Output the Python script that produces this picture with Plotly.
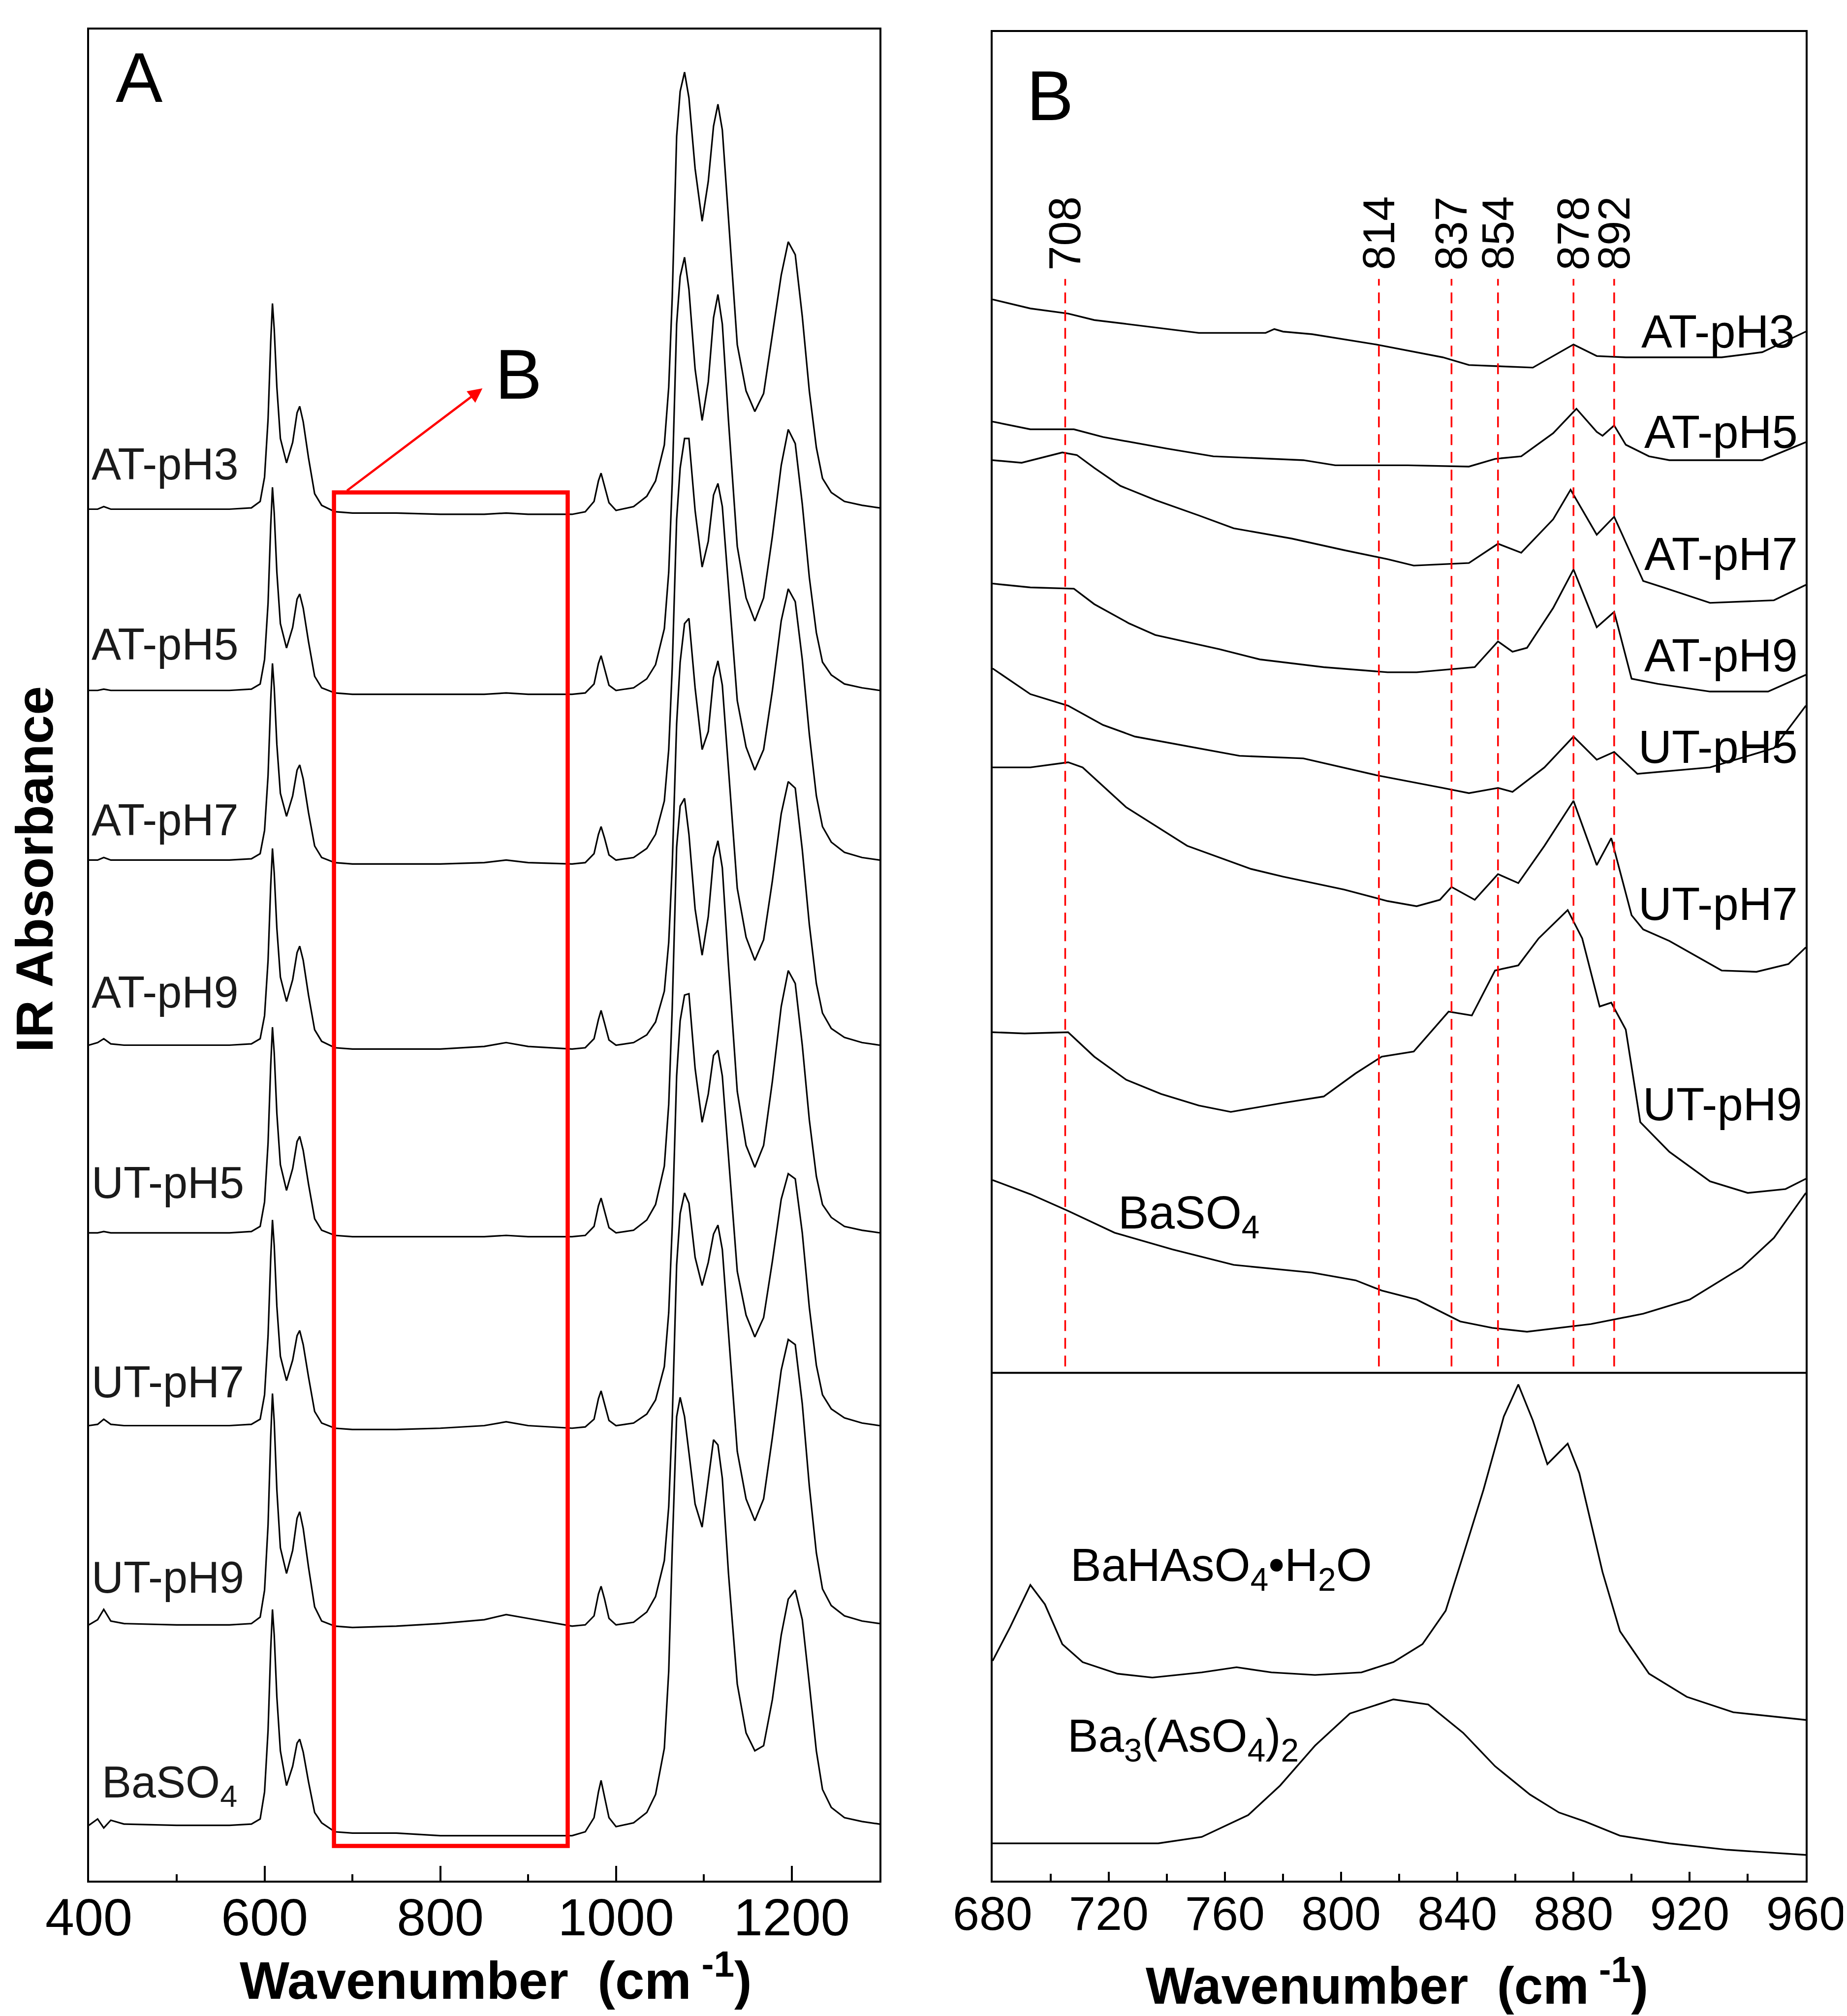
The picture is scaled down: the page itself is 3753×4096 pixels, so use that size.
import plotly.graph_objects as go

W, H = 3753, 4096
FONT = "Arial, Liberation Sans, Helvetica, sans-serif"

# ---------------- Panel A data (wavenumber grid, baseline offsets, heights above baseline)
wnA = [400, 410, 417, 425, 440, 500, 560, 585, 595,
       600, 604, 607, 609, 611, 614, 618, 625, 632, 637, 640, 644, 650, 657, 665,
       680, 700, 750, 800, 850, 875, 900, 950, 965, 975, 980, 983, 987, 992, 1000,
       1020, 1035, 1045, 1055, 1060, 1064, 1069, 1073, 1078, 1083, 1090, 1098, 1105, 1111, 1116,
       1121, 1128, 1138, 1148, 1158, 1168, 1178, 1188, 1196, 1204, 1212, 1220, 1228, 1235,
       1245, 1260, 1280, 1300]

namesA = ["AT-pH3", "AT-pH5", "AT-pH7", "AT-pH9", "UT-pH5", "UT-pH7", "UT-pH9", "BaSO4"]
offsetsA = [1067, 926, 794, 650, 504, 354, 199, 43]

at_ph3 = [0, 0, 2, 0, 0, 0, 0, 1, 6,
          25, 70, 130, 160, 140, 95, 55, 36, 52, 75, 80, 68, 40, 12, 3,
          -2, -3, -3, -4, -4, -3, -4, -4, -2, 6, 22, 28, 18, 5, -1,
          2, 10, 22, 50, 95, 165, 290, 325, 340, 320, 265, 224, 255, 298, 315,
          295, 226, 128, 92, 76, 90, 135, 182, 208, 198, 150, 92, 48, 24, 13, 6, 3, 1]
at_ph5 = [0, 0, 1, 0, 0, 0, 0, 1, 5,
          24, 68, 128, 158, 138, 92, 52, 33, 49, 71, 75, 64, 38, 11, 2,
          -2, -3, -3, -3, -3, -2, -3, -3, -2, 5, 21, 27, 17, 4, 0,
          2, 9, 20, 48, 92, 162, 285, 322, 337, 312, 250, 210, 240, 290, 308,
          285, 210, 112, 72, 54, 72, 120, 175, 203, 192, 145, 88, 45, 22, 12, 5, 2, 0]
at_ph7 = [0, 0, 2, 0, 0, 0, 0, 1, 5,
          23, 66, 124, 153, 134, 90, 52, 34, 50, 70, 74, 63, 37, 11, 2,
          -2, -3, -3, -3, -2, 0, -2, -3, -2, 5, 20, 26, 17, 4, 0,
          2, 9, 20, 46, 86, 150, 265, 305, 328, 328, 272, 228, 248, 284, 293,
          275, 212, 124, 88, 70, 86, 132, 186, 211, 201, 156, 98, 50, 26, 14, 6, 2, 0]
at_ph9 = [0, 2, 5, 1, 0, 0, 0, 1, 5,
          23, 66, 124, 153, 134, 91, 53, 34, 51, 72, 77, 66, 39, 12, 3,
          -2, -3, -3, -3, -1, 2, -1, -3, -2, 5, 20, 27, 17, 4, 0,
          2, 8, 18, 42, 80, 140, 250, 298, 328, 332, 278, 230, 244, 286, 299,
          280, 214, 122, 84, 66, 82, 128, 180, 205, 200, 152, 94, 48, 25, 13, 6, 2, 0]
ut_ph5 = [0, 0, 1, 0, 0, 0, 0, 1, 5,
          24, 70, 130, 160, 140, 93, 53, 33, 50, 71, 75, 64, 38, 11, 2,
          -2, -3, -3, -3, -3, -2, -3, -3, -2, 5, 21, 27, 17, 4, 0,
          2, 10, 22, 52, 100, 175, 300, 332, 338, 310, 252, 216, 246, 292, 305,
          284, 208, 110, 68, 51, 68, 118, 176, 204, 194, 146, 88, 44, 22, 12, 5, 2, 0]
ut_ph7 = [0, 1, 5, 1, 0, 0, 0, 1, 5,
          24, 70, 130, 160, 140, 93, 54, 35, 51, 70, 74, 63, 38, 11, 2,
          -2, -3, -3, -2, 0, 3, 0, -2, -1, 5, 21, 27, 17, 4, 0,
          2, 9, 20, 46, 88, 155, 272, 315, 335, 336, 278, 236, 258, 288, 292,
          272, 208, 120, 86, 69, 84, 128, 176, 196, 192, 150, 92, 47, 24, 13, 6, 2, 0]
ut_ph9 = [0, 4, 12, 3, 1, 0, 0, 1, 6,
          27, 78, 146, 180, 158, 105, 60, 40, 58, 83, 88, 75, 45, 14, 3,
          -1, -2, -1, 1, 4, 8, 5, -1, 0, 7, 24, 30, 20, 5, 0,
          2, 10, 22, 50, 92, 160, 280, 320, 336, 328, 286, 264, 282, 304, 311,
          292, 228, 135, 98, 81, 98, 146, 198, 222, 218, 172, 108, 56, 28, 15, 7, 3, 1]
baso4_A = [0, 5, -2, 4, 1, 0, 0, 1, 5,
           26, 74, 137, 168, 148, 100, 58, 31, 46, 64, 67, 57, 34, 10, 2,
           -5, -6, -6, -8, -8, -8, -8, -8, -5, 6, 26, 35, 22, 6, -1,
           2, 10, 24, 60, 120, 215, 318, 333, 318, 290, 250, 232, 268, 300, 296,
           270, 196, 110, 72, 58, 62, 98, 148, 176, 183, 160, 110, 58, 28, 14, 6, 3, 1]
heightsA = [at_ph3, at_ph5, at_ph7, at_ph9, ut_ph5, ut_ph7, ut_ph9, baso4_A]

labelsA = ["AT-pH3", "AT-pH5", "AT-pH7", "AT-pH9", "UT-pH5", "UT-pH7", "UT-pH9",
           "BaSO<sub>4</sub>"]
labelA_x = [402, 402, 402, 402, 402, 402, 402, 414]
labelA_y = [1102, 962, 825, 691, 543, 388, 236, 74]

# ---------------- Panel B data
b_at_ph3_x = [680, 693, 706, 715, 726, 740, 751, 774, 777, 780, 790, 812, 835, 844, 866, 880, 888, 898, 931, 945, 960]
b_at_ph3_y = [1230, 1223, 1219, 1214, 1211, 1207, 1204, 1204, 1207, 1205, 1203, 1195, 1185, 1179, 1177, 1195, 1186, 1185, 1185, 1189, 1205]
b_at_ph5_x = [680, 693, 708, 718, 740, 756, 787, 798, 823, 841, 844, 853, 862, 873, 881, 888, 890, 894, 898, 906, 913, 945, 960]
b_at_ph5_y = [1135, 1129, 1129, 1123, 1114, 1108, 1105, 1101, 1101, 1100, 1100, 1106, 1108, 1126, 1145, 1127, 1124, 1132, 1117, 1108, 1105, 1105, 1119]
b_at_ph7_x = [680, 690, 704, 709, 715, 724, 736, 751, 763, 783, 801, 816, 825, 844, 854, 862, 873, 879, 888, 894, 904, 911, 927, 949, 960]
b_at_ph7_y = [1105, 1103, 1111, 1109, 1099, 1085, 1074, 1062, 1052, 1044, 1035, 1028, 1023, 1025, 1040, 1033, 1059, 1082, 1047, 1061, 1011, 1006, 994, 996, 1008]
b_at_ph9_x = [680, 693, 708, 715, 727, 736, 758, 772, 794, 816, 826, 846, 854, 859, 864, 873, 880, 888, 894, 900, 909, 927, 947, 960]
b_at_ph9_y = [1009, 1006, 1005, 993, 978, 969, 958, 950, 944, 940, 940, 944, 964, 956, 959, 990, 1020, 975, 987, 935, 931, 925, 925, 938]
b_ut_ph5_x = [680, 693, 706, 718, 729, 751, 765, 787, 812, 835, 844, 854, 859, 870, 880, 888, 894, 902, 927, 949, 960]
b_ut_ph5_y = [943, 923, 914, 899, 890, 881, 875, 873, 860, 850, 846, 850, 847, 866, 890, 872, 878, 861, 866, 881, 914]
b_ut_ph7_x = [680, 693, 706, 711, 726, 747, 769, 780, 801, 816, 826, 834, 838, 846, 854, 861, 870, 880, 888, 893, 900, 904, 913, 931, 943, 954, 960]
b_ut_ph7_y = [866, 866, 870, 866, 835, 805, 787, 781, 771, 762, 758, 763, 773, 763, 783, 776, 805, 840, 790, 811, 751, 740, 731, 708, 707, 713, 726]
b_ut_ph9_x = [680, 691, 706, 715, 726, 738, 751, 762, 780, 794, 805, 814, 825, 837, 845, 853, 861, 868, 878, 883, 889, 893, 898, 903, 913, 927, 940, 953, 960]
b_ut_ph9_y = [660, 659, 660, 641, 623, 612, 603, 598, 605, 610, 628, 641, 645, 676, 673, 708, 712, 733, 755, 733, 680, 683, 662, 590, 567, 544, 535, 538, 546]
b_baso4_x = [680, 693, 706, 722, 742, 763, 790, 805, 814, 826, 841, 852, 864, 886, 904, 920, 938, 949, 960]
b_baso4_y = [545, 534, 521, 504, 491, 479, 473, 467, 459, 452, 435, 430, 427, 433, 441, 452, 477, 500, 535]
bahaso4_x = [680, 686, 693, 698, 704, 711, 723, 735, 752, 764, 776, 791, 807, 818, 828, 836, 842, 849, 856, 861, 866, 871, 878, 882, 890, 896, 906, 919, 935, 960]
bahaso4_y = [171, 197, 230, 215, 184, 170, 161, 158, 162, 166, 162, 160, 162, 170, 184, 210, 253, 304, 361, 386, 358, 324, 340, 317, 240, 194, 161, 143, 131, 125]
ba3aso4_x = [680, 737, 752, 768, 779, 791, 803, 818, 830, 842, 853, 865, 875, 884, 896, 913, 933, 960]
ba3aso4_y = [29, 29, 34, 51, 74, 105, 130, 141, 137, 115, 89, 67, 53, 46, 35, 29, 24, 20]

curvesB = [(b_at_ph3_x, b_at_ph3_y), (b_at_ph5_x, b_at_ph5_y), (b_at_ph7_x, b_at_ph7_y),
           (b_at_ph9_x, b_at_ph9_y), (b_ut_ph5_x, b_ut_ph5_y), (b_ut_ph7_x, b_ut_ph7_y),
           (b_ut_ph9_x, b_ut_ph9_y), (b_baso4_x, b_baso4_y), (bahaso4_x, bahaso4_y),
           (ba3aso4_x, ba3aso4_y)]

labelsB = ["AT-pH3", "AT-pH5", "AT-pH7", "AT-pH9", "UT-pH5", "UT-pH7", "UT-pH9",
           "BaSO<sub>4</sub>", "BaHAsO<sub>4</sub>\u2022H<sub>2</sub>O",
           "Ba<sub>3</sub>(AsO<sub>4</sub>)<sub>2</sub>"]
labelB_x = [903, 904, 904, 904, 902, 902, 903.5, 722.8, 706.5, 705.5]
labelB_y = [1205, 1127, 1032, 953, 882, 760, 604, 517, 243, 110]

peak_lines = [705, 813, 838, 854, 880, 894]
peak_labels = ["708", "814", "837", "854", "878", "892"]

# box marked in panel A and divider in panel B
boxA_x = [679, 945]
boxA_y = [27, 1080]
divider_y = 395

fig = go.Figure()
for name, off, h in zip(namesA, offsetsA, heightsA):
    fig.add_trace(go.Scatter(x=wnA, y=[off + v for v in h], mode="lines", name=name,
                             line=dict(color="black", width=3.2), xaxis="x", yaxis="y",
                             showlegend=False))
for (cx, cy) in curvesB:
    fig.add_trace(go.Scatter(x=cx, y=cy, mode="lines", line=dict(color="black", width=3.4),
                             xaxis="x2", yaxis="y2", showlegend=False))

shapes = [
    dict(type="rect", xref="x", yref="y", x0=boxA_x[0], x1=boxA_x[1], y0=boxA_y[0], y1=boxA_y[1],
         line=dict(color="#ff0000", width=8.5)),
    dict(type="line", xref="x2", yref="y2", x0=680, x1=960, y0=divider_y, y1=divider_y,
         line=dict(color="black", width=4)),
]
for p in peak_lines:
    shapes.append(dict(type="line", xref="x2", yref="y2", x0=p, x1=p, y0=400, y1=1246,
                       line=dict(color="#ff0000", width=3.5, dash="22px,14px")))

ann = []
for t, x, y in zip(labelsA, labelA_x, labelA_y):
    ann.append(dict(text=t, x=x, y=y, xref="x", yref="y", xanchor="left", yanchor="middle",
                    showarrow=False, font=dict(family=FONT, size=90, color="#1a1a1a")))
for t, x, y in zip(labelsB, labelB_x, labelB_y):
    ann.append(dict(text=t, x=x, y=y, xref="x2", yref="y2", xanchor="left", yanchor="middle",
                    showarrow=False, font=dict(family=FONT, size=94, color="black")))
for p, t in zip(peak_lines, peak_labels):
    ann.append(dict(text=t, x=p, y=1252, xref="x2", yref="y2", xanchor="center", yanchor="bottom",
                    textangle=-90, showarrow=False, font=dict(family=FONT, size=90, color="black")))

# arrow and panel letters
ann.append(dict(text="", x=848, y=1161, ax=693, ay=1081, xref="x", yref="y", axref="x", ayref="y",
                showarrow=True, arrowcolor="#ff0000", arrowwidth=4.5, arrowhead=2, arrowsize=1.3,
                standoff=0, startstandoff=0))
ann.append(dict(text="B", x=889, y=1172, xref="x", yref="y", xanchor="center", yanchor="middle",
                showarrow=False, font=dict(family=FONT, size=143, color="black")))
ann.append(dict(text="A", x=275 / W, y=1 - 149 / H, xref="paper", yref="paper", xanchor="center",
                yanchor="middle", showarrow=False, font=dict(family=FONT, size=143, color="black")))
ann.append(dict(text="B", x=2125 / W, y=1 - 186 / H, xref="paper", yref="paper", xanchor="center",
                yanchor="middle", showarrow=False, font=dict(family=FONT, size=143, color="black")))
# axis titles
ann.append(dict(text="<b>IR Absorbance</b>", x=62 / W, y=1 - 1758 / H, xref="paper", yref="paper",
                xanchor="center", yanchor="middle", textangle=-90, showarrow=False,
                font=dict(family=FONT, size=106, color="black")))
title_txt = "<b>Wavenumber\u00a0\u00a0(cm<sup>\u00a0-1</sup>)</b>"
ann.append(dict(text=title_txt, x=999 / W, y=1 - 4008 / H, xref="paper", yref="paper",
                xanchor="center", yanchor="middle", showarrow=False,
                font=dict(family=FONT, size=107, color="black")))
ann.append(dict(text=title_txt, x=2830 / W, y=1 - 4018 / H, xref="paper", yref="paper",
                xanchor="center", yanchor="middle", showarrow=False,
                font=dict(family=FONT, size=105, color="black")))

axis_common = dict(showline=True, linecolor="black", linewidth=4, mirror=True,
                   showgrid=False, zeroline=False, automargin=False)
fig.update_layout(
    width=W, height=H, autosize=False,
    margin=dict(l=0, r=0, t=0, b=0, autoexpand=False),
    paper_bgcolor="white", plot_bgcolor="white",
    xaxis=dict(domain=[172.5 / W, 1779.3 / W], range=[400, 1300], anchor="y",
               tickmode="array", tickvals=[400, 600, 800, 1000, 1200],
               ticks="inside", ticklen=30, tickwidth=4, tickcolor="black",
               minor=dict(tickvals=[500, 700, 900, 1100], ticks="inside", ticklen=13,
                          tickwidth=4, tickcolor="black"),
               tickfont=dict(family=FONT, size=106, color="black"), ticklabelstandoff=-20,
               **axis_common),
    yaxis=dict(domain=[1 - 3813 / H, 1 - 52.4 / H], range=[0, 1440], anchor="x",
               showticklabels=False, ticks="", **axis_common),
    xaxis2=dict(domain=[2008.9 / W, 3661.4 / W], range=[680, 960], anchor="y2",
                tickmode="array", tickvals=[680, 720, 760, 800, 840, 880, 920, 960],
                ticks="inside", ticklen=18, tickwidth=4, tickcolor="black",
                minor=dict(tickvals=[700, 740, 780, 820, 860, 900, 940], ticks="inside",
                           ticklen=14, tickwidth=4, tickcolor="black"),
                tickfont=dict(family=FONT, size=97, color="black"), ticklabelstandoff=-20,
                **axis_common),
    yaxis2=dict(domain=[1 - 3813 / H, 1 - 57.2 / H], range=[0, 1438], anchor="x2",
                showticklabels=False, ticks="", **axis_common),
    shapes=shapes,
    annotations=ann,
)

fig.write_html("out.html")
